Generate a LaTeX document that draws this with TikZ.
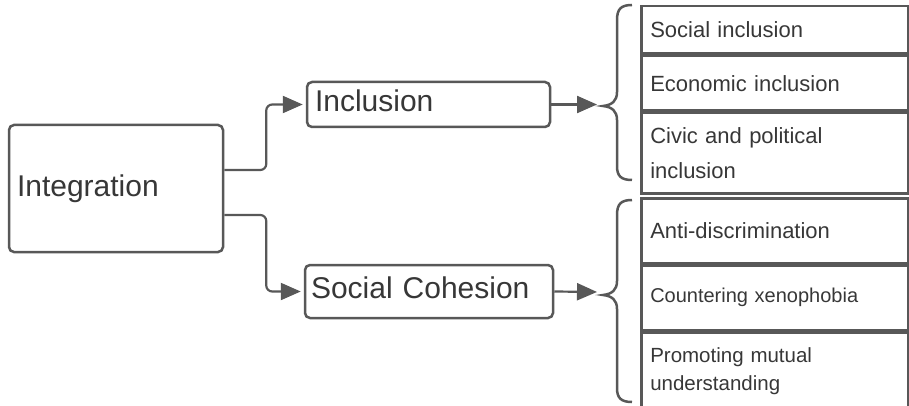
\documentclass[tikz,border=0pt]{standalone}
\usepackage{fontspec}
\setmainfont{Liberation Sans}
\usepackage{xcolor}
\usetikzlibrary{arrows.meta,positioning}
\definecolor{linegray}{RGB}{88,88,88}
\definecolor{txtgray}{RGB}{55,55,55}

\begin{document}
\begin{tikzpicture}[x=1pt,y=-1pt,
   box/.style={draw=linegray,line width=2.5pt,rounded corners=5pt,text=txtgray,align=left,inner ysep=0pt,font=\fontsize{30}{36}\selectfont},
   cell/.style={draw=linegray,line width=2.5pt,anchor=north west,text=txtgray,align=left,inner xsep=9pt,inner ysep=0pt,minimum width=267pt,text width=249pt,font=\fontsize{22}{26}\selectfont},
   conn/.style={draw=linegray,line width=2.2pt,rounded corners=6pt,-{Triangle[length=20pt,width=17pt]},shorten >=3pt},
   brc/.style={draw=linegray,line width=2.5pt}]
   \useasboundingbox (0,0) rectangle (909,406);
   % main boxes
   \node[box,minimum width=214pt,minimum height=127pt,text width=198pt,inner xsep=8pt] (integ) at (116,188.5) {Integration};
   \node[box,minimum width=243pt,minimum height=45pt,text width=227pt,inner xsep=8pt,text depth=7pt] (incl) at (428.5,104.5) {Inclusion};
   \node[box,minimum width=248pt,minimum height=53pt,text width=236pt,inner xsep=6pt,text depth=7pt] (cohes) at (429,291.5) {Social Cohesion};
   \draw[conn] ([yshift=18.5pt]integ.east) -- ++(42,0) |- (incl.west);
   \draw[conn] ([yshift=-26.5pt]integ.east) -- ++(42,0) |- (cohes.west);
   % braces
   \draw[brc] (632,5) .. controls (621,5) and (617,9) .. (617,20) -- (617,92) .. controls (617,101) and (612,105) .. (603,106) .. controls (612,107) and (617,111) .. (617,120) -- (617,166) .. controls (617,176) and (621,180) .. (632,180);
   \draw[brc] (632,200) .. controls (621,200) and (617,204) .. (617,215) -- (617,281) .. controls (617,290) and (612,294) .. (603,295) .. controls (612,296) and (617,300) .. (617,309) -- (617,388) .. controls (617,398) and (621,402) .. (632,402);
   \coordinate (tipA) at (600,104.5);
   \coordinate (tipB) at (600,292);
   \draw[conn] (incl.east) -- (tipA);
   \draw[conn] (cohes.east) -- (tipB);
   % lists
   \node[cell,minimum height=47pt] (c1) at (640,5) {Social inclusion};
   \node[cell,minimum height=55pt,below=0pt of c1] (c2) {Economic inclusion};
   \node[cell,minimum height=80pt,below=0pt of c2,font=\fontsize{22}{35}\selectfont] (c3) {Civic and political\\inclusion};
   \node[cell,minimum height=65pt] (d1) at (640,197) {Anti-discrimination};
   \node[cell,minimum height=64pt,below=0pt of d1,font=\fontsize{20}{24}\selectfont] (d2) {Countering xenophobia};
   \node[cell,minimum height=77pt,below=0pt of d2,font=\fontsize{20.5}{28}\selectfont] (d3) {Promoting mutual\\understanding};
\end{tikzpicture}
\end{document}
